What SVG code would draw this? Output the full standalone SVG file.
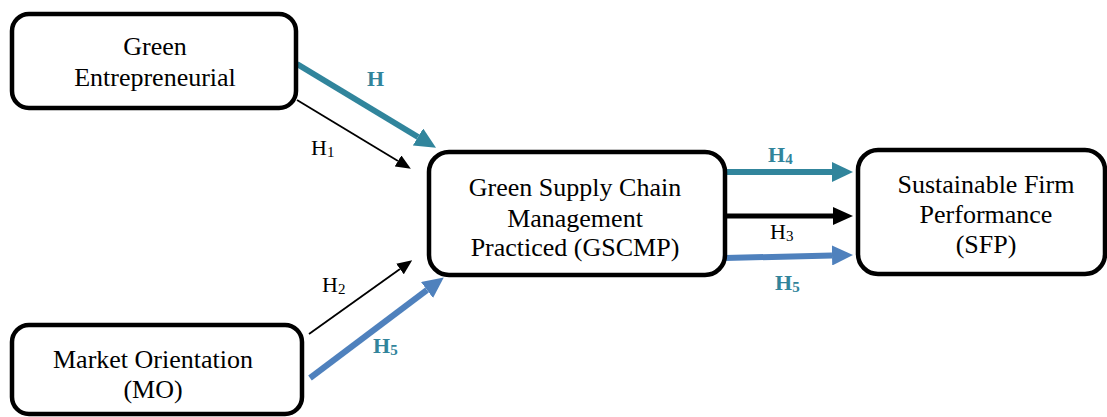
<svg xmlns="http://www.w3.org/2000/svg" width="1107" height="417" viewBox="0 0 1107 417">
  <style>
    .box { fill: #ffffff; stroke: #000000; stroke-width: 4.5; }
    .txt { font-family: "Liberation Serif", "Times New Roman", serif; font-size: 26px; fill: #000000; text-anchor: middle; }
    .lbl { font-family: "Liberation Serif", "Times New Roman", serif; font-size: 22px; fill: #000000; }
    .lblb { font-family: "Liberation Serif", "Times New Roman", serif; font-size: 22px; font-weight: bold; fill: #31849B; }
    .sub { font-size: 15px; }
    .thin { stroke: #000000; stroke-width: 1.8; fill: none; }
    .teal { stroke: #31859C; stroke-width: 6; fill: none; }
    .blue { stroke: #4F81BD; stroke-width: 6; fill: none; }
    .blk { stroke: #000000; stroke-width: 5; fill: none; }
  </style>
  <defs>
    <marker id="headThin" markerUnits="userSpaceOnUse" markerWidth="15" markerHeight="13" refX="0" refY="6.5" orient="auto">
      <path d="M0,0 L15,6.5 L0,13 z" fill="#000000"/>
    </marker>
    <marker id="headTeal" markerUnits="userSpaceOnUse" markerWidth="21" markerHeight="20" refX="0" refY="10" orient="auto">
      <path d="M0,0 L21,10 L0,20 z" fill="#31859C"/>
    </marker>
    <marker id="headBlue" markerUnits="userSpaceOnUse" markerWidth="21" markerHeight="20" refX="0" refY="10" orient="auto">
      <path d="M0,0 L21,10 L0,20 z" fill="#4F81BD"/>
    </marker>
    <marker id="headBlack" markerUnits="userSpaceOnUse" markerWidth="20" markerHeight="18" refX="0" refY="9" orient="auto">
      <path d="M0,0 L20,9 L0,18 z" fill="#000000"/>
    </marker>
  </defs>

  <!-- connectors -->
  <g id="connectors">
    <line class="teal" x1="297" y1="64" x2="418" y2="137" marker-end="url(#headTeal)"/>
    <line class="thin" x1="297" y1="100" x2="398" y2="161" marker-end="url(#headThin)"/>
    <line class="thin" x1="309" y1="334" x2="400" y2="269" marker-end="url(#headThin)"/>
    <line class="blue" x1="310" y1="378" x2="427" y2="290" marker-end="url(#headBlue)"/>
    <line class="teal" x1="727" y1="172" x2="832" y2="172" marker-end="url(#headTeal)"/>
    <line class="blk" x1="727" y1="216" x2="833" y2="216" marker-end="url(#headBlack)"/>
    <line class="blue" x1="725" y1="258" x2="832" y2="255.5" marker-end="url(#headBlue)"/>

    <text class="lblb" x="367" y="86">H</text>
    <text class="lbl" x="311" y="155">H<tspan class="sub" dy="2">1</tspan></text>
    <text class="lbl" x="322" y="292">H<tspan class="sub" dy="2">2</tspan></text>
    <text class="lblb" x="373" y="353">H<tspan class="sub" dy="2">5</tspan></text>
    <text class="lblb" x="768" y="162">H<tspan class="sub" dy="2">4</tspan></text>
    <text class="lbl" x="770" y="239">H<tspan class="sub" dy="2">3</tspan></text>
    <text class="lblb" x="775" y="290">H<tspan class="sub" dy="2">5</tspan></text>
  </g>

  <g id="ge">
    <rect class="box" x="12" y="14" width="284" height="94" rx="17"/>
    <text class="txt" x="155" y="55">Green</text>
    <text class="txt" x="155" y="86">Entrepreneurial</text>
  </g>

  <g id="mo">
    <rect class="box" x="12" y="325" width="290" height="89" rx="17"/>
    <text class="txt" x="153" y="368">Market Orientation</text>
    <text class="txt" x="153" y="398">(MO)</text>
  </g>

  <g id="gscmp">
    <rect class="box" x="429" y="152" width="296" height="123" rx="20"/>
    <text class="txt" x="575" y="196">Green Supply Chain</text>
    <text class="txt" x="575" y="227">Management</text>
    <text class="txt" x="575" y="256">Practiced (GSCMP)</text>
  </g>

  <g id="sfp">
    <rect class="box" x="858" y="150" width="247" height="124" rx="20"/>
    <text class="txt" x="986" y="193">Sustainable Firm</text>
    <text class="txt" x="986" y="223">Performance</text>
    <text class="txt" x="986" y="253">(SFP)</text>
  </g>
</svg>
